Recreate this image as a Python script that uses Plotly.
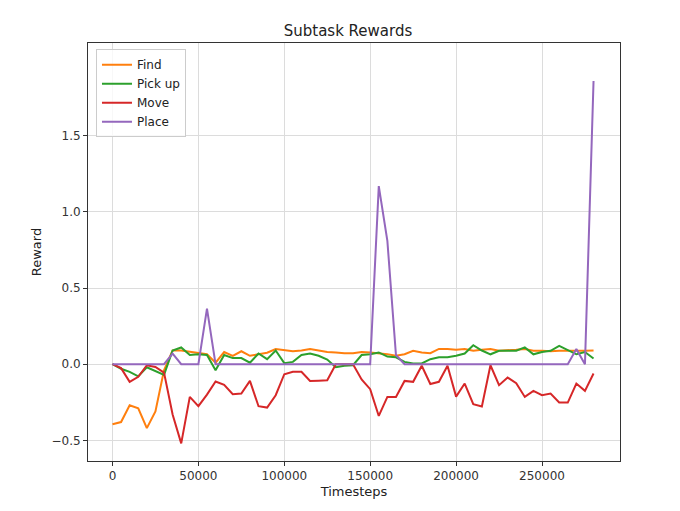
import plotly.graph_objects as go

timesteps = [i * 5000 for i in range(57)]

find = [-0.395, -0.38, -0.27, -0.29, -0.42, -0.31, -0.04, 0.09, 0.09, 0.08,
        0.07, 0.065, 0.01, 0.08, 0.055, 0.085, 0.055, 0.065, 0.075, 0.1,
        0.09, 0.085, 0.09, 0.1, 0.09, 0.08, 0.077, 0.072, 0.072, 0.08,
        0.077, 0.072, 0.066, 0.055, 0.065, 0.088, 0.077, 0.072, 0.1, 0.1,
        0.095, 0.1, 0.088, 0.095, 0.1, 0.088, 0.09, 0.095, 0.1, 0.088,
        0.088, 0.085, 0.088, 0.088, 0.085, 0.088, 0.09]
pick_up = [0.0, -0.03, -0.05, -0.08, -0.02, -0.045, -0.07, 0.09, 0.11, 0.06,
           0.065, 0.06, -0.04, 0.06, 0.04, 0.04, 0.01, 0.07, 0.033, 0.09,
           0.007, 0.015, 0.06, 0.07, 0.055, 0.03, -0.02, -0.01, -0.007, 0.06,
           0.065, 0.077, 0.05, 0.045, 0.015, 0.005, 0.005, 0.033, 0.045, 0.045,
           0.055, 0.07, 0.125, 0.09, 0.065, 0.088, 0.088, 0.088, 0.11, 0.065,
           0.08, 0.088, 0.12, 0.09, 0.065, 0.08, 0.037]
move = [0.0, -0.026, -0.116, -0.083, -0.007, -0.018, -0.055, -0.33, -0.52, -0.215,
        -0.276, -0.2, -0.114, -0.136, -0.197, -0.193, -0.11, -0.276, -0.285, -0.204,
        -0.066, -0.05, -0.05, -0.11, -0.108, -0.106, 0.0, 0.0, 0.0, -0.1,
        -0.164, -0.34, -0.215, -0.215, -0.11, -0.116, -0.01, -0.13, -0.116, -0.01,
        -0.213, -0.127, -0.263, -0.278, -0.007, -0.138, -0.088, -0.125, -0.215, -0.175,
        -0.204, -0.193, -0.252, -0.252, -0.127, -0.175, -0.061]
place = [0.0] * 7 + [0.07, 0.0, 0.0, 0.0, 0.365] + [0.0] * 19 + [1.17, 0.81, 0.06] \
    + [0.0] * 20 + [0.1, 0.0, 1.86]

series = [("Find", find, "#ff7f0e"), ("Pick up", pick_up, "#2ca02c"),
          ("Move", move, "#d62728"), ("Place", place, "#9467bd")]

fig = go.Figure()
for name, vals, color in series:
    fig.add_trace(go.Scatter(x=timesteps, y=vals, mode="lines", name=name,
                             line=dict(color=color, width=2)))

axis = dict(showline=True, linecolor="#333", mirror=True, showgrid=True,
            gridcolor="#dcdcdc", zeroline=False, ticks="outside", ticklen=4,
            tickcolor="#333", tickfont=dict(size=12, color="#333"))
fig.update_layout(
    width=680, height=511, paper_bgcolor="white", plot_bgcolor="white",
    font=dict(family="DejaVu Sans", color="#222"),
    margin=dict(l=80, r=68, t=35, b=58),
    title=dict(text="Subtask Rewards", x=0.5, xanchor="center", y=0.965,
               font=dict(size=15)),
    xaxis=dict(axis, range=[-14250, 295400], tickvals=[0, 50000, 100000, 150000, 200000, 250000],
               ticktext=["0", "50000", "100000", "150000", "200000", "250000"],
               title=dict(text="Timesteps", font=dict(size=13), standoff=4)),
    yaxis=dict(axis, range=[-0.636, 2.11], tickvals=[-0.5, 0, 0.5, 1.0, 1.5],
               ticktext=["−0.5", "0.0", "0.5", "1.0", "1.5"],
               title=dict(text="Reward", font=dict(size=13), standoff=6)),
    legend=dict(x=0.015, y=0.985, xanchor="left", yanchor="top",
                bordercolor="#ccc", borderwidth=1, bgcolor="rgba(255,255,255,0.8)",
                font=dict(size=12)),
)
fig.write_html("out.html")
